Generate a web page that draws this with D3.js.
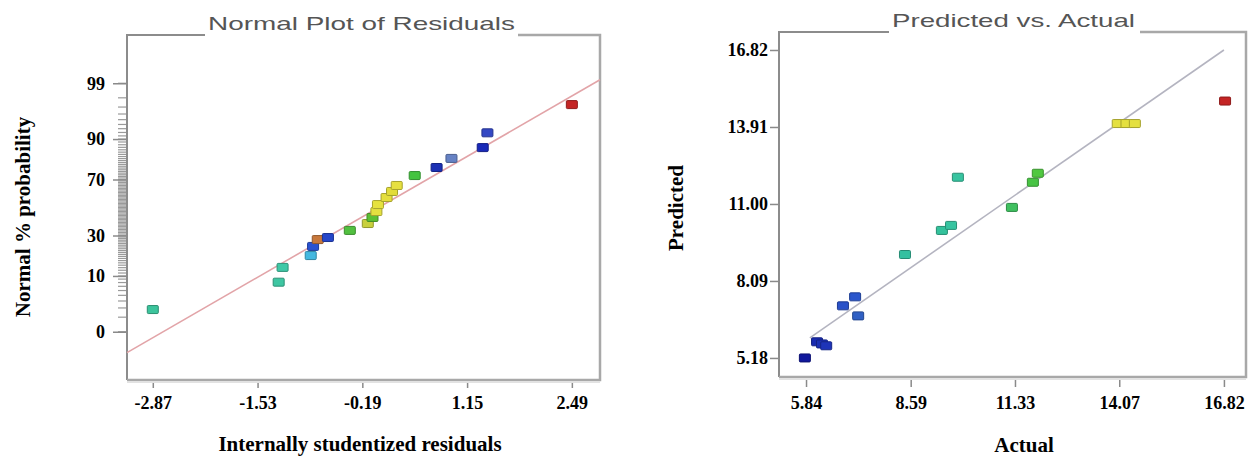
<!DOCTYPE html>
<html>
<head>
<meta charset="utf-8">
<script src="https://cdn.jsdelivr.net/npm/d3@7"></script>
<style>
  body { margin: 0; background: #fff; }
  svg { display: block; }
  .tick text { font-family: 'Liberation Serif', 'Times New Roman', serif; font-weight: bold; font-size: 18px; fill: #000; }
  .tick line { stroke: #8a8a8a; stroke-width: 1.5; }
  .axis-title { font-family: 'Liberation Serif', 'Times New Roman', serif; font-weight: bold; font-size: 21px; fill: #000; }
  .plot-title { font-family: 'Liberation Sans', Arial, sans-serif; font-size: 19px; fill: #555; }
</style>
</head>
<body>
<svg id="chart" width="1248" height="457"></svg>
<script>
// normal plot of residuals (left)
const residuals = [-2.87, -1.26, -1.21, -0.85, -0.82, -0.76, -0.63, -0.35, -0.12, -0.06, -0.01, 0.01, 0.12, 0.19, 0.25, 0.48, 0.76, 0.95, 1.35, 1.41, 2.49]
const residualProbs = [2.8, 8.1, 13.1, 18.4, 23.3, 27.4, 28.7, 33.4, 38.2, 42.6, 47.0, 52.2, 57.4, 61.8, 66.0, 72.5, 77.3, 82.1, 86.9, 91.9, 97.3]
const residualColors = ['#3cc49c', '#3ec6a2', '#40c8a6', '#44b8e0', '#2a52d0', '#c8783c', '#2646c8', '#52c040', '#c8d03c', '#5cc034', '#e4e040', '#e6e23e', '#e4de3c', '#e2dc3a', '#e6e040', '#44c440', '#1c30b4', '#6682c4', '#1a2ab8', '#3448c4', '#c42424']
const residualTicks = [-2.87, -1.53, -0.19, 1.15, 2.49]
const probTicks = [1, 10, 30, 70, 90, 99]
const probTickLabels = ['0', '10', '30', '70', '90', '99']
const probMinorTicks = d3.range(1, 100)
const residualLineX = [-3.20, 2.85]
const residualLineProb = [0.33, 99.16]

// predicted vs actual (right)
const actual = [5.81, 6.13, 6.26, 6.37, 6.81, 7.13, 7.21, 8.44, 9.41, 9.65, 9.83, 11.25, 11.80, 11.93, 14.03, 14.26, 14.48, 16.85]
const predicted = [5.18, 5.79, 5.71, 5.64, 7.15, 7.49, 6.77, 9.09, 10.00, 10.19, 12.01, 10.87, 11.82, 12.16, 14.04, 14.04, 14.04, 14.89]
const pvaColors = ['#10189c', '#1a2cb0', '#1c30b4', '#1e34b8', '#2a52c8', '#2a56cc', '#3060c4', '#34c0a0', '#34c29c', '#36c4a0', '#38c4a0', '#40c060', '#48c444', '#50c840', '#e4e040', '#e4e040', '#e4e040', '#c42424']
const actualTicks = [5.84, 8.59, 11.33, 14.07, 16.82]
const predictedTicks = [5.18, 8.09, 11.00, 13.91, 16.82]
const diagonal = [5.94, 16.82]

// inverse normal cdf (Acklam), used for the probability axis
function probit (p) {
  const a = [-39.69683028665376, 220.9460984245205, -275.9285104469687, 138.3577518672690, -30.66479806614716, 2.506628277459239]
  const b = [-54.47609879822406, 161.5858368580409, -155.6989798598866, 66.80131188771972, -13.28068155288572]
  const c = [-0.007784894002430293, -0.3223964580411365, -2.400758277161838, -2.549732539343734, 4.374664141464968, 2.938163982698783]
  const d = [0.007784695709041462, 0.3224671290700398, 2.445134137142996, 3.754408661907416]
  const pl = 0.02425
  let q, r
  if (p < pl) {
    q = Math.sqrt(-2 * Math.log(p))
    return (((((c[0] * q + c[1]) * q + c[2]) * q + c[3]) * q + c[4]) * q + c[5]) / ((((d[0] * q + d[1]) * q + d[2]) * q + d[3]) * q + 1)
  }
  if (p > 1 - pl) {
    q = Math.sqrt(-2 * Math.log(1 - p))
    return -(((((c[0] * q + c[1]) * q + c[2]) * q + c[3]) * q + c[4]) * q + c[5]) / ((((d[0] * q + d[1]) * q + d[2]) * q + d[3]) * q + 1)
  }
  q = p - 0.5
  r = q * q
  return (((((a[0] * r + a[1]) * r + a[2]) * r + a[3]) * r + a[4]) * r + a[5]) * q / (((((b[0] * r + b[1]) * r + b[2]) * r + b[3]) * r + b[4]) * r + 1)
}

const svg = d3.select('#chart')

function drawFrame (g, w, h, gapFrom, gapTo) {
  // top + left darker, right + bottom lighter
  g.append('path')
    .attr('d', 'M' + gapFrom + ',0H0V' + h)
    .attr('fill', 'none')
    .attr('stroke', '#8c8c8c')
    .attr('stroke-width', 2)
  g.append('path')
    .attr('d', 'M0,' + h + 'H' + w + 'V0H' + gapTo)
    .attr('fill', 'none')
    .attr('stroke', '#a8a8a8')
    .attr('stroke-width', 2.5)
  g.append('path')
    .attr('d', 'M0,' + (h + 2) + 'H' + w)
    .attr('fill', 'none')
    .attr('stroke', '#e2e2e2')
    .attr('stroke-width', 2)
}

function drawMarkers (g, xs, ys, colors, x, y) {
  g.selectAll('rect.pt')
    .data(xs)
    .enter()
    .append('rect')
    .attr('class', 'pt')
    .attr('x', (d, i) => x(d) - 5.5)
    .attr('y', (d, i) => y(ys[i]) - 4)
    .attr('width', 11)
    .attr('height', 8)
    .attr('rx', 1)
    .attr('fill', (d, i) => colors[i])
    .attr('stroke', (d, i) => d3.color(colors[i]).darker(0.9))
    .attr('stroke-width', 1)
}

// ---------- left: normal plot ----------
function drawNormalPlot () {
  const left = 127
  const top = 35
  const w = 600 - left
  const h = 380 - top

  const x = d3.scaleLinear().domain([-3.20, 2.85]).range([0, w])
  const z = d3.scaleLinear().domain([-3.23, 3.23]).range([h, 0])
  const y = p => z(probit(p / 100))

  const g = svg.append('g').attr('transform', 'translate(' + left + ',' + top + ')')

  // minor probability ticks
  g.append('g')
    .selectAll('line')
    .data(probMinorTicks)
    .enter()
    .append('line')
    .attr('x1', -9)
    .attr('x2', 0)
    .attr('y1', d => y(d))
    .attr('y2', d => y(d))
    .attr('stroke', '#9a9a9a')
    .attr('stroke-width', 1.2)

  // major probability ticks
  const yAxis = d3.axisLeft(z)
    .tickValues(probTicks.map(p => probit(p / 100)))
    .tickSize(14)
    .tickPadding(8)
    .tickFormat((d, i) => probTickLabels[i])
  g.append('g').call(yAxis).call(a => a.select('.domain').remove())

  const xAxis = d3.axisBottom(x)
    .tickValues(residualTicks)
    .tickSize(8)
    .tickPadding(8)
    .tickFormat(d => d.toFixed(2))
  g.append('g')
    .attr('transform', 'translate(0,' + h + ')')
    .call(xAxis)
    .call(a => a.select('.domain').remove())

  drawFrame(g, w, h, 78, 391)

  // fit line
  g.append('line')
    .attr('x1', x(residualLineX[0]))
    .attr('y1', y(residualLineProb[0]))
    .attr('x2', x(residualLineX[1]))
    .attr('y2', y(residualLineProb[1]))
    .attr('stroke', '#e2a4a8')
    .attr('stroke-width', 1.6)

  drawMarkers(g, residuals, residualProbs, residualColors, x, y)

  svg.append('text')
    .attr('class', 'plot-title')
    .attr('x', 208)
    .attr('y', 30)
    .attr('textLength', 307)
    .attr('lengthAdjust', 'spacingAndGlyphs')
    .text('Normal Plot of Residuals')

  svg.append('text')
    .attr('class', 'axis-title')
    .attr('text-anchor', 'middle')
    .attr('x', 360)
    .attr('y', 451)
    .text('Internally studentized residuals')

  svg.append('text')
    .attr('class', 'axis-title')
    .attr('text-anchor', 'middle')
    .attr('transform', 'translate(30,217) rotate(-90)')
    .text('Normal % probability')
}

// ---------- right: predicted vs actual ----------
function drawPredictedActual () {
  const left = 779
  const top = 32
  const w = 1246 - left
  const h = 377 - top

  const x = d3.scaleLinear().domain([5.13, 17.40]).range([0, w])
  const y = d3.scaleLinear().domain([4.46, 17.50]).range([h, 0])

  const g = svg.append('g').attr('transform', 'translate(' + left + ',' + top + ')')

  g.append('g')
    .call(d3.axisLeft(y).tickValues(predictedTicks).tickSize(9).tickPadding(2).tickFormat(d => d.toFixed(2)))
    .call(a => a.select('.domain').remove())

  g.append('g')
    .attr('transform', 'translate(0,' + h + ')')
    .call(d3.axisBottom(x).tickValues(actualTicks).tickSize(10).tickPadding(9).tickFormat(d => d.toFixed(2)))
    .call(a => a.select('.domain').remove())

  drawFrame(g, w, h, 110, 361)

  g.append('line')
    .attr('x1', x(diagonal[0]))
    .attr('y1', y(diagonal[0]))
    .attr('x2', x(diagonal[1]))
    .attr('y2', y(diagonal[1]))
    .attr('stroke', '#b4b4c0')
    .attr('stroke-width', 1.6)

  drawMarkers(g, actual, predicted, pvaColors, x, y)

  svg.append('text')
    .attr('class', 'plot-title')
    .attr('x', 892)
    .attr('y', 27)
    .attr('textLength', 243)
    .attr('lengthAdjust', 'spacingAndGlyphs')
    .text('Predicted vs. Actual')

  svg.append('text')
    .attr('class', 'axis-title')
    .attr('text-anchor', 'middle')
    .attr('x', 1024)
    .attr('y', 452)
    .text('Actual')

  svg.append('text')
    .attr('class', 'axis-title')
    .attr('text-anchor', 'middle')
    .attr('transform', 'translate(683,208) rotate(-90)')
    .text('Predicted')
}

drawNormalPlot()
drawPredictedActual()
</script>
</body>
</html>
